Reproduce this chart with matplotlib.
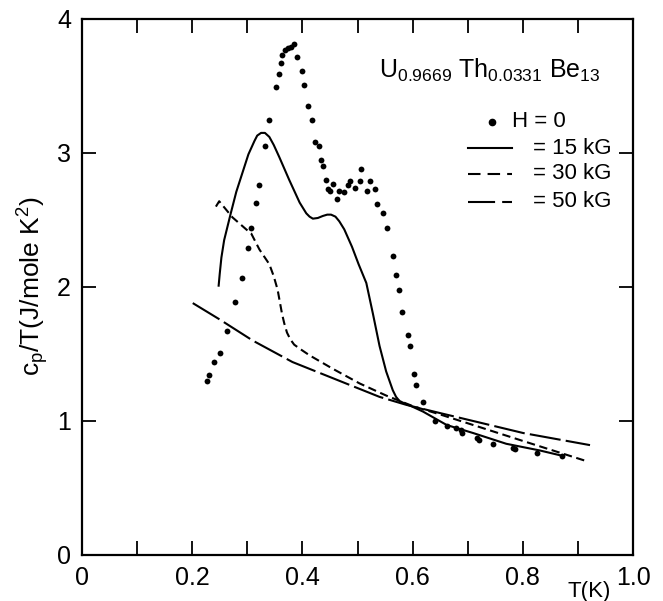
import numpy as np
import matplotlib
matplotlib.use("Agg")
import matplotlib.pyplot as plt

plt.rcParams['font.family'] = ['Liberation Sans', 'DejaVu Sans']
plt.rcParams['mathtext.fontset'] = 'custom'
plt.rcParams['mathtext.rm'] = 'Liberation Sans'
plt.rcParams['mathtext.it'] = 'Liberation Sans'

# H = 0 data points (T in K, cp/T in J/mole K^2)
t_h0 = [0.226, 0.230, 0.240, 0.251, 0.263, 0.278, 0.290, 0.302, 0.307, 0.316,
        0.321, 0.332, 0.340, 0.352, 0.358, 0.361, 0.363, 0.369, 0.373, 0.379,
        0.385, 0.391, 0.399, 0.402, 0.411, 0.417, 0.423, 0.430, 0.433, 0.438,
        0.442, 0.446, 0.450, 0.455, 0.462, 0.467, 0.475, 0.482, 0.487, 0.496,
        0.504, 0.506, 0.517, 0.522, 0.531, 0.536, 0.547, 0.553, 0.565, 0.570,
        0.575, 0.581, 0.592, 0.596, 0.602, 0.607, 0.618, 0.640, 0.662, 0.678,
        0.687, 0.690, 0.717, 0.721, 0.746, 0.782, 0.785, 0.825, 0.872]
c_h0 = [1.30, 1.34, 1.44, 1.51, 1.67, 1.89, 2.07, 2.29, 2.44, 2.63,
        2.76, 3.05, 3.25, 3.49, 3.59, 3.67, 3.73, 3.77, 3.78, 3.79,
        3.81, 3.72, 3.61, 3.51, 3.35, 3.25, 3.08, 3.05, 2.95, 2.90,
        2.80, 2.73, 2.72, 2.77, 2.66, 2.72, 2.71, 2.76, 2.79, 2.74,
        2.79, 2.88, 2.72, 2.79, 2.73, 2.62, 2.55, 2.44, 2.23, 2.09,
        1.98, 1.81, 1.64, 1.56, 1.35, 1.27, 1.14, 1.00, 0.96, 0.95,
        0.93, 0.91, 0.87, 0.86, 0.83, 0.80, 0.79, 0.76, 0.74]

# H = 15 kG curve
t_15 = [0.248, 0.250, 0.253, 0.258, 0.264, 0.270, 0.280, 0.291, 0.302, 0.313,
        0.318, 0.325, 0.332, 0.340, 0.348, 0.358, 0.376, 0.395, 0.407, 0.413,
        0.419, 0.428, 0.437, 0.445, 0.452, 0.460, 0.467, 0.476, 0.490, 0.502,
        0.516, 0.528, 0.540, 0.552, 0.564, 0.570, 0.576, 0.586, 0.598, 0.619,
        0.649, 0.662, 0.710, 0.770, 0.831, 0.872]
c_15 = [2.01, 2.10, 2.22, 2.35, 2.45, 2.55, 2.71, 2.85, 2.99, 3.09,
        3.13, 3.15, 3.15, 3.12, 3.06, 2.97, 2.80, 2.63, 2.55, 2.525,
        2.51, 2.515, 2.53, 2.54, 2.54, 2.525, 2.49, 2.43, 2.30, 2.17,
        2.03, 1.80, 1.56, 1.37, 1.23, 1.18, 1.15, 1.13, 1.11, 1.07,
        1.00, 0.97, 0.91, 0.83, 0.78, 0.74]

# H = 30 kG curve
t_30 = [0.243, 0.249, 0.273, 0.298, 0.307, 0.322, 0.340, 0.348, 0.355, 0.363,
        0.367, 0.372, 0.378, 0.385, 0.395, 0.413, 0.455, 0.504, 0.552, 0.601,
        0.649, 0.710, 0.801, 0.916]
c_30 = [2.60, 2.64, 2.52, 2.43, 2.40, 2.28, 2.17, 2.08, 1.98, 1.80,
        1.73, 1.66, 1.61, 1.57, 1.54, 1.49, 1.39, 1.28, 1.19, 1.11,
        1.05, 0.97, 0.85, 0.70]

# H = 50 kG curve
t_50 = [0.201, 0.249, 0.310, 0.382, 0.461, 0.540, 0.589, 0.649, 0.710, 0.801, 0.922]
c_50 = [1.88, 1.76, 1.60, 1.44, 1.31, 1.18, 1.12, 1.06, 1.00, 0.91, 0.82]

x_ticks = np.arange(0, 1.01, 0.1)
x_labels = ['0', '', '0.2', '', '0.4', '', '0.6', '', '0.8', '', '1.0']
y_ticks = [0, 1, 2, 3, 4]
y_labels = ['0', '1', '2', '3', '4']

W, H = 663, 601
fig = plt.figure(figsize=(W / 100, H / 100), dpi=100)
ax = fig.add_axes([82 / W, 1 - 555 / H, 551 / W, 536 / H])

ax.plot(t_h0, c_h0, 'o', color='black', markersize=4.2, markeredgewidth=0)
ax.plot(t_15, c_15, '-', color='black', lw=1.5)
ax.plot(t_30, c_30, color='black', lw=1.5, dashes=(4, 2.2))
ax.plot(t_50, c_50, color='black', lw=1.5, dashes=(15, 2.5))

ax.set_xlim(0, 1.0)
ax.set_ylim(0, 4)
ax.set_xticks(x_ticks)
ax.set_xticklabels(x_labels)
ax.set_yticks(y_ticks)
ax.set_yticklabels(y_labels)
ax.tick_params(direction='in', length=10, width=1.3, top=True, right=True,
               labelsize=18, pad=8)
for s in ax.spines.values():
    s.set_linewidth(1.6)

# axis labels
fig.text(33 / W, 1 - 286 / H, r'c$_\mathregular{p}$/T(J/mole K$^\mathregular{2}$)',
         rotation=90, ha='center', va='center', fontsize=19)
fig.text(589 / W, 1 - 592 / H, 'T(K)', ha='center', va='center', fontsize=16)

# compound name
ax.text(0.740, 0.905,
        r'U$_\mathregular{0.9669}$ Th$_\mathregular{0.0331}$ Be$_\mathregular{13}$',
        transform=ax.transAxes, ha='center', va='center', fontsize=18)

# legend drawn by hand so the "=" signs line up
ax.plot([0.744], [0.808], 'o', color='black', markersize=4.5, transform=ax.transAxes)
ax.plot([0.700, 0.780], [0.759, 0.759], '-', color='black', lw=1.5, transform=ax.transAxes)
ax.plot([0.700, 0.780], [0.711, 0.711], color='black', lw=1.5, dashes=(6, 3.4),
        transform=ax.transAxes)
ax.plot([0.700, 0.780], [0.659, 0.659], color='black', lw=1.5, dashes=(13, 3.4),
        transform=ax.transAxes)
ax.text(0.780, 0.808, 'H = 0', transform=ax.transAxes, ha='left', va='center', fontsize=16)
for yy, lab in [(0.759, '= 15 kG'), (0.711, '= 30 kG'), (0.659, '= 50 kG')]:
    ax.text(0.818, yy, lab, transform=ax.transAxes, ha='left', va='center', fontsize=16)

fig.savefig('out.png', dpi=100)
